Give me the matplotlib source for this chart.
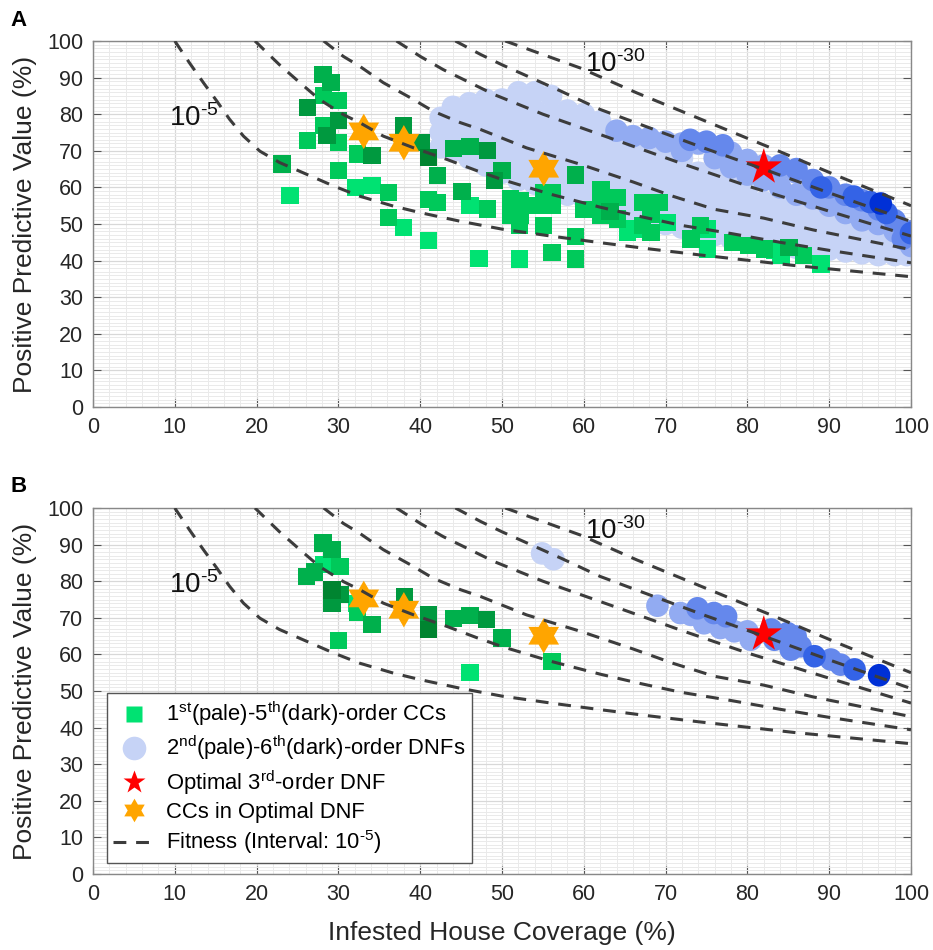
import numpy as np
import matplotlib
matplotlib.use("Agg")
import matplotlib.pyplot as plt
from matplotlib.path import Path
from matplotlib.lines import Line2D
from matplotlib.ticker import MultipleLocator

plt.rcParams['font.family'] = ['Liberation Sans', 'DejaVu Sans']
plt.rcParams['mathtext.fontset'] = 'custom'
plt.rcParams['mathtext.rm'] = 'Liberation Sans'
plt.rcParams['mathtext.it'] = 'Liberation Sans'
plt.rcParams['mathtext.bf'] = 'Liberation Sans:bold'

# ---------------- data ----------------
# fitness iso-curves (10^-5 ... 10^-30)
fit_x = [
    [10, 11.8, 13.5, 15.1, 16.7, 18.4, 20.4, 22.8, 26.1, 29.4, 32.6, 36.7, 40, 45, 50, 56, 62, 68, 74, 80, 86, 93, 100],
    [19.8, 22.8, 25.3, 27.7, 30.6, 32.6, 35.5, 39.2, 43.2, 47, 50.2, 56, 62, 67, 72, 78, 84, 90, 95, 100],
    [28.2, 30.6, 32.6, 35.5, 38.8, 41.6, 44.9, 47.4, 53, 59.6, 66, 71, 76, 82, 88, 94, 100],
    [37.1, 40, 42.8, 46.1, 49, 55, 63.7, 72, 80, 90, 100],
    [44.3, 47.4, 50, 57.2, 62, 68.6, 75, 82.1, 90, 99.2, 100],
    [50.4, 55, 59.6, 66.5, 75, 83.3, 91.5, 100],
]
fit_y = [
    [100, 94, 88.6, 83.7, 78.6, 74, 69.9, 66.8, 63.6, 60.4, 57.6, 54.9, 53.1, 50.7, 48.6, 46.7, 44.9, 43.2, 41.6, 40.1, 38.6, 37.1, 35.6],
    [100, 93.5, 88.6, 84.0, 79.9, 77.7, 74.0, 70.8, 67.7, 64.5, 62.0, 58.1, 54.6, 52.0, 49.6, 47.4, 45.0, 42.8, 41.1, 39.4],
    [100, 95.8, 93.1, 88.6, 84.5, 80.8, 77.7, 75.8, 70.8, 66.3, 61.5, 57.5, 54.0, 51.6, 48.4, 45.7, 43.0],
    [100, 95.8, 92.2, 88.6, 85.4, 80, 73.1, 66.5, 60.4, 53.5, 46.7],
    [100, 96.3, 93.5, 86.3, 81.3, 75.8, 70.5, 64.9, 58.5, 51.3, 50.7],
    [100, 96.3, 92.6, 85.8, 78.0, 70.4, 62.7, 55.0],
]

# Panel A: conjunctive clauses (x, y, order level 1..5)
cc_a = [
    (28.1, 90.8, 3), (29.1, 88.7, 3), (30.0, 83.7, 2), (28.2, 85.1, 2), (26.2, 81.9, 4),
    (30.0, 78.2, 4), (28.2, 76.9, 2), (28.6, 74.1, 4), (26.2, 72.8, 2), (30.0, 72.3, 2),
    (32.3, 69.1, 2), (34.1, 68.7, 4), (30.0, 64.6, 2), (23.1, 66.4, 3), (24.1, 57.7, 1),
    (32.1, 60.0, 1), (34.1, 60.5, 1), (36.1, 58.7, 2), (36.1, 51.8, 2), (38.0, 49.1, 1),
    (41.0, 45.4, 1), (38.0, 76.9, 4), (40.2, 72.3, 4), (41.0, 68.2, 5), (42.1, 63.2, 3),
    (41.0, 56.6, 2), (42.1, 55.9, 2), (44.1, 70.7, 3), (46.1, 71.2, 3), (48.2, 70.0, 4),
    (45.1, 58.9, 3), (46.1, 55.0, 1), (48.2, 54.1, 2), (47.2, 40.6, 1), (50.0, 64.6, 3),
    (49.1, 61.8, 4), (51.0, 56.8, 2), (52.2, 56.3, 2), (51.0, 52.3, 2), (52.2, 52.3, 2),
    (52.1, 49.5, 2), (52.1, 40.4, 1), (53.6, 55.0, 2), (55.1, 58.7, 2), (56.1, 58.7, 2),
    (55.1, 55.0, 2), (56.1, 55.0, 2), (55.1, 49.5, 2), (56.1, 42.3, 2), (59.0, 63.4, 3),
    (60.0, 54.0, 2), (59.0, 46.5, 2), (59.0, 40.4, 2), (62.1, 59.3, 2), (64.1, 57.3, 2),
    (62.1, 55.0, 2), (62.1, 52.3, 2), (63.2, 53.5, 3), (64.1, 51.4, 2), (65.3, 47.7, 1),
    (66.1, 48.6, 1), (67.2, 49.5, 2), (67.2, 55.9, 2), (69.2, 55.9, 2), (68.2, 52.7, 2),
    (68.2, 47.7, 2), (70.2, 50.5, 1), (74.3, 49.5, 2), (75.1, 48.6, 1), (73.1, 45.9, 2),
    (75.1, 43.2, 1), (78.2, 45.0, 2), (80.2, 44.1, 2), (82.1, 43.2, 2), (83.3, 42.7, 1),
    (85.1, 43.6, 3), (86.9, 41.3, 2), (89.0, 39.1, 1), (84.1, 41.3, 1),
]

# Panel A: DNFs, palest tier given column-wise (x: list of y)
dnf_a_pale_cols = [
    (42.5, [71, 75, 79]), (44, [70, 74, 78, 82]), (46, [68, 72, 76, 80, 83]),
    (48, [66, 70, 74, 78, 82, 84]), (50, [64, 68, 72, 76, 80, 84]),
    (52, [62, 66, 70, 74, 78, 82, 86]), (54, [61, 65, 69, 73, 77, 81, 86]),
    (56, [60, 64, 68, 72, 76, 80, 85]), (58, [58, 62, 66, 70, 74, 78, 81]),
    (60, [57, 61, 65, 69, 73, 77, 80]), (62, [55, 59, 63, 67, 71, 75, 78]),
    (64, [54, 58, 62, 66, 70, 74]), (66, [52, 56, 60, 64, 68, 72]),
    (68, [51, 55, 59, 63, 67, 70]), (70, [50, 54, 58, 62, 66, 69]),
    (72, [49, 53, 57, 61, 65, 68]), (74, [48, 52, 56, 60, 64]),
    (76, [47, 51, 55, 59, 63]), (78, [46, 50, 54, 58, 61]),
    (80, [45, 49, 53, 57, 60]), (82, [44.5, 48, 52, 56]), (84, [44, 47, 51, 55]),
    (86, [43.5, 47, 50, 53]), (88, [43, 46, 49, 52]), (90, [43, 46, 49, 52]),
    (92, [42.5, 45, 48]), (94, [42, 45, 48]), (96, [41.5, 44, 47]),
    (98, [41.5, 44]), (99.5, [41.5, 44]),
]
dnf_a_t2 = [(64, 75.5), (66, 74), (68, 73.5), (70, 72.5), (72, 72), (74, 72), (72, 70),
            (76, 71), (76, 68), (78, 69.5), (78, 65.5), (80, 67.5), (80, 63.5), (82, 66),
            (82, 62), (84, 65), (84, 60), (86, 64), (86, 58), (88, 61), (88, 57), (90, 58),
            (90, 55), (92, 56), (92, 53), (94, 55), (94, 51), (96, 53), (96, 50), (98, 50),
            (98, 48), (100, 47), (100, 44)]
dnf_a_t3 = [(73, 73), (75, 72.5), (77, 71.5), (84, 66), (86, 65), (88, 62), (90, 60),
            (92, 58), (94, 56.5), (96, 54), (98, 51), (100, 48), (99, 46)]
dnf_a_t4 = [(89, 60), (93, 57.5), (95, 56), (97, 53), (100, 47.5)]
dnf_a_t5 = [(96.3, 55.6)]

# Panel B: CCs and DNFs within the optimal DNF family
cc_b = [
    (28.1, 90.4, 3), (29.2, 88.6, 3), (26.1, 81.3, 3), (27.1, 82.5, 3), (28.2, 84.5, 1),
    (30.2, 84.0, 2), (29.2, 77.6, 5), (30.2, 76.3, 4), (29.2, 74.0, 4), (32.2, 74.0, 1),
    (32.3, 71.5, 2), (34.1, 68.1, 3), (30.0, 63.8, 2), (38.1, 75.8, 4), (41.0, 70.8, 4),
    (41.0, 66.9, 5), (44.1, 69.9, 3), (46.1, 70.6, 3), (48.1, 69.5, 4), (46.1, 55.0, 1),
    (50.0, 64.5, 3), (56.1, 58.1, 2),
]
dnf_b = [
    (54.9, 87.6, 1), (56.3, 86.0, 1),
    (69.0, 73.3, 2), (71.8, 71.3, 2), (73.1, 70.8, 2), (73.9, 72.6, 3), (75.9, 71.3, 3),
    (77.4, 70.4, 3), (74.7, 68.5, 2), (76.7, 67.2, 2), (78.4, 66.3, 2), (80.0, 66.3, 2),
    (80.4, 64.0, 2), (82.9, 66.8, 3), (83.3, 64.0, 3), (84.9, 65.8, 3), (85.9, 64.9, 3),
    (85.3, 61.3, 3), (86.5, 62.2, 3), (88.2, 59.5, 4), (90.2, 58.6, 3), (91.4, 57.2, 3),
    (93.1, 55.9, 4), (96.1, 54.3, 5),
]

optimal_dnf = (82.0, 65.5)
cc_in_opt_x = [33.1, 38.0, 55.1]
cc_in_opt_y = [75.3, 72.2, 65.1]

fit_labels = [r"10$^{\text{-}5}$", r"10$^{\text{-}30}$"]
fit_label_pos = [(9.3, 76.8), (60.2, 91.6)]

ticks = list(range(0, 101, 10))
legend_labels = [r"1$^{\text{st}}$(pale)-5$^{\text{th}}$(dark)-order CCs",
                 r"2$^{\text{nd}}$(pale)-6$^{\text{th}}$(dark)-order DNFs",
                 r"Optimal 3$^{\text{rd}}$-order DNF",
                 "CCs in Optimal DNF",
                 r"Fitness (Interval: 10$^{\text{-}5}$)"]

# ---------------- styles ----------------
green = {1: "#00E272", 2: "#00C95A", 3: "#00B04C", 4: "#00993F", 5: "#008430"}
blue = {1: "#C6D3F6", 2: "#92ABF2", 3: "#6588EC", 4: "#3463E6", 5: "#0030D6"}
hexagram = Path.unit_regular_star(6, 0.577)
SQ = 155
CI = 265
DASH = (0, (4.2, 3.2))

fig = plt.figure(figsize=(9.33, 9.5), dpi=100)
axA = fig.add_axes([93/933, 1-407/950, 818/933, 366/950])
axB = fig.add_axes([93/933, 1-874/950, 818/933, 366/950])


def style(ax):
    ax.set_xlim(0, 100)
    ax.set_ylim(0, 100)
    ax.set_xticks(ticks)
    ax.set_yticks(ticks)
    ax.xaxis.set_minor_locator(MultipleLocator(2))
    ax.yaxis.set_minor_locator(MultipleLocator(1))
    ax.grid(which='major', color='#D8D8D8', lw=0.9, zorder=0)
    ax.grid(which='minor', color='#EAEAEA', lw=0.7, zorder=0)
    ax.set_axisbelow(True)
    ax.tick_params(which='major', direction='in', length=6, width=0.8, color='#555555',
                   top=True, right=True, labelsize=15.5, labelcolor='#262626', pad=7)
    ax.tick_params(which='minor', length=0)
    for s in ax.spines.values():
        s.set_color('#888888')
        s.set_linewidth(1.0)
    ax.set_ylabel("Positive Predictive Value (%)", fontsize=19, color='#262626')
    ax.yaxis.set_label_coords(-0.068, 0.5)


def draw_curves(ax):
    for xs, ys in zip(fit_x, fit_y):
        ax.plot(xs, ys, ls=DASH, color='#3C3C3C', lw=2.2, zorder=6,
                solid_capstyle='butt', dash_capstyle='butt')
    for lab, (lx, ly) in zip(fit_labels, fit_label_pos):
        ax.text(lx, ly, lab, fontsize=20, color='#111111', ha='left', va='baseline',
                zorder=7)


def draw_cc(ax, pts):
    for lvl in [1, 2, 3, 4, 5]:
        xs = [p[0] for p in pts if p[2] == lvl]
        ys = [p[1] for p in pts if p[2] == lvl]
        if xs:
            ax.scatter(xs, ys, s=SQ, marker='s', color=green[lvl], edgecolors='none', zorder=4)


def draw_stars(ax):
    ax.scatter(cc_in_opt_x, cc_in_opt_y, s=25.5**2, marker=hexagram, color='#FFA500',
               edgecolors='none', zorder=5)
    ax.scatter([optimal_dnf[0]], [optimal_dnf[1]], s=27.5**2, marker='*', color='#FF0000',
               edgecolors='none', zorder=5)


# ---- Panel A ----
style(axA)
pale_x = [c[0] for c in dnf_a_pale_cols for _ in c[1]]
pale_y = [y for c in dnf_a_pale_cols for y in c[1]]
axA.scatter(pale_x, pale_y, s=CI, color=blue[1], edgecolors='none', zorder=2)
for lvl, pts in [(2, dnf_a_t2), (3, dnf_a_t3), (4, dnf_a_t4), (5, dnf_a_t5)]:
    axA.scatter([p[0] for p in pts], [p[1] for p in pts], s=CI, color=blue[lvl],
                edgecolors='none', zorder=2 + lvl * 0.1)
draw_cc(axA, cc_a)
draw_stars(axA)
draw_curves(axA)

# ---- Panel B ----
style(axB)
for lvl in [1, 2, 3, 4, 5]:
    xs = [p[0] for p in dnf_b if p[2] == lvl]
    ys = [p[1] for p in dnf_b if p[2] == lvl]
    axB.scatter(xs, ys, s=CI, color=blue[lvl], edgecolors='none', zorder=2 + lvl * 0.1)
draw_cc(axB, cc_b)
draw_stars(axB)
draw_curves(axB)
axB.set_xlabel("Infested House Coverage (%)", fontsize=19, color='#262626')
axB.xaxis.set_label_coords(0.5, -0.128)

handles = [
    Line2D([], [], ls='none', marker='s', ms=11, color=green[1], mec='none'),
    Line2D([], [], ls='none', marker='o', ms=17, color=blue[1], mec='none'),
    Line2D([], [], ls='none', marker='*', ms=17, color='#FF0000', mec='none'),
    Line2D([], [], ls='none', marker=hexagram, ms=17, color='#FFA500', mec='none'),
    Line2D([], [], ls=DASH, lw=2.2, color='#3C3C3C'),
]
leg = axB.legend(handles, legend_labels, loc='lower left', bbox_to_anchor=(0.0167, 0.03),
                 borderaxespad=0, fontsize=15.8, frameon=True, fancybox=False,
                 edgecolor='#555555', framealpha=1, labelspacing=0.25, handlelength=1.9,
                 handletextpad=0.5, borderpad=0.3)
leg.get_frame().set_linewidth(1.0)
leg.set_zorder(10)

fig.text(0.011, 0.989, "A", fontsize=16, fontweight='bold', va='top', ha='left')
fig.text(0.011, 0.499, "B", fontsize=16, fontweight='bold', va='top', ha='left')

fig.savefig("out.png", dpi=100)
